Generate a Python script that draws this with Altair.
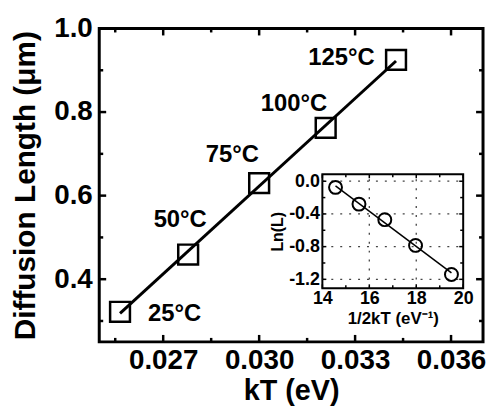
import altair as alt
import pandas as pd

# ---- data ----
temps = ["25°C", "50°C", "75°C", "100°C", "125°C"]
kT = [0.02565, 0.02778, 0.0300, 0.03208, 0.03428]          # eV
L = [0.322, 0.459, 0.630, 0.762, 0.925]                    # µm
inv2kT = [19.50, 17.97, 16.66, 15.56, 14.56]               # 1/eV
lnL = [-1.14, -0.785, -0.47, -0.28, -0.075]

x_major = [0.027, 0.030, 0.033, 0.036]
x_minor = [0.0255, 0.0285, 0.0315, 0.0345]
y_major = [0.4, 0.6, 0.8, 1.0]
y_minor = [0.3, 0.5, 0.7, 0.9]

ix_major = [14, 16, 18, 20]
ix_minor = [15, 17, 19]
iy_major = [0.0, -0.4, -0.8, -1.2]
iy_minor = [-0.2, -0.6, -1.0]

# ---- layout ----
W, H = 387, 316
XD = [0.025, 0.037]
YD = [0.25, 1.0]
IXD = [14, 20]
IYD = [-1.31, 0.085]
IN_L, IN_R, IN_T, IN_B = 225, 367, 147, 262   # inset frame in plot pixels

FONT = "Liberation Sans"

df = pd.DataFrame({"t": temps, "kT": kT, "L": L})
dfi = pd.DataFrame({"ix": inv2kT, "iy": lnL})

xs = alt.Scale(domain=XD, nice=False, zero=False)
ys = alt.Scale(domain=YD, nice=False, zero=False)
ixs = alt.Scale(domain=IXD, range=[IN_L, IN_R], nice=False, zero=False)
iys = alt.Scale(domain=IYD, range=[IN_B, IN_T], nice=False, zero=False)

xaxis = alt.Axis(values=x_major, format=".3f", labelFontSize=28, labelFontWeight="bold",
                 labelColor="black", ticks=False, domain=False, grid=False,
                 title="kT (eV)", titleFontSize=29, titleFontWeight="bold",
                 titleColor="black", labelPadding=5, titlePadding=2,
                 labelOverlap=False, labelFlush=False)
yaxis = alt.Axis(values=y_major, format=".1f", labelFontSize=28, labelFontWeight="bold",
                 labelColor="black", ticks=False, domain=False, grid=False,
                 title="Diffusion Length (μm)", titleFontSize=30, titleFontWeight="bold",
                 titleColor="black", labelPadding=7, titlePadding=13,
                 labelOverlap=False, labelFlush=False)

neg_fmt = "datum.value < 0 ? '-' + format(-datum.value, '.1f') : format(datum.value, '.1f')"
ixaxis = alt.Axis(orient="bottom", offset=-(H - IN_B), values=ix_major, format="d",
                  labelFontSize=18, labelFontWeight="bold", labelColor="black",
                  ticks=False, domain=False, grid=False, zindex=3,
                  title="1/2kT (eV⁻¹)", titleFontSize=17, titleFontWeight="bold",
                  titleColor="black", labelPadding=1, titlePadding=3,
                  labelOverlap=False, labelFlush=False)
iyaxis = alt.Axis(orient="left", offset=-IN_L, values=iy_major, labelExpr=neg_fmt,
                  labelFontSize=18, labelFontWeight="bold", labelColor="black",
                  ticks=False, domain=False, grid=False, zindex=3,
                  title="Ln(L)", titleFontSize=16, titleFontWeight="bold",
                  titleColor="black", labelPadding=3, titlePadding=3,
                  labelOverlap=False, labelFlush=False)

X = alt.X("kT:Q", scale=xs, axis=xaxis)
Y = alt.Y("L:Q", scale=ys, axis=yaxis)
IX = alt.X("ix:Q", scale=ixs, axis=ixaxis)
IY = alt.Y("iy:Q", scale=iys, axis=iyaxis)

def px(dom, length_px, span):
    return (dom[1] - dom[0]) * length_px / span

# ---- main panel ----
mframe = alt.Chart(pd.DataFrame({"a": [0]})).mark_rect(
    fill="transparent", stroke="black", strokeWidth=3).encode(
    x=alt.XDatum(XD[0], scale=xs, axis=xaxis), x2=alt.datum(XD[1]),
    y=alt.YDatum(YD[0], scale=ys, axis=yaxis), y2=alt.datum(YD[1]))
fit = alt.Chart(df).transform_regression("kT", "L").mark_line(
    color="black", strokeWidth=3).encode(x=X, y=Y)
squares = alt.Chart(df).mark_point(shape="square", size=400, filled=False,
                                   color="black", strokeWidth=2.5, opacity=1).encode(x=X, y=Y)

offsets = {"25°C": (55, 2), "50°C": (-8, -35), "75°C": (-27, -28),
           "100°C": (-32, -24), "125°C": (-55, -2)}
labels = []
for t in temps:
    dx, dy = offsets[t]
    labels.append(
        alt.Chart(df).transform_filter(alt.datum.t == t).mark_text(
            font=FONT, fontSize=24, fontWeight="bold", color="black",
            dx=dx, dy=dy, align="center", baseline="middle"
        ).encode(x=X, y=Y, text="t:N")
    )

def xticks(vals, length):
    d = pd.DataFrame({"kT": vals})
    bot = alt.Chart(d).mark_rule(color="black", strokeWidth=2.5).encode(
        x=X, y=alt.YDatum(YD[0], scale=ys, axis=yaxis),
        y2=alt.datum(YD[0] + px(YD, length, H)))
    top = alt.Chart(d).mark_rule(color="black", strokeWidth=2.5).encode(
        x=X, y=alt.YDatum(YD[1], scale=ys, axis=yaxis),
        y2=alt.datum(YD[1] - px(YD, length, H)))
    return [bot, top]

def yticks(vals, length):
    d = pd.DataFrame({"L": vals})
    lft = alt.Chart(d).mark_rule(color="black", strokeWidth=2.5).encode(
        y=Y, x=alt.XDatum(XD[0], scale=xs, axis=xaxis),
        x2=alt.datum(XD[0] + px(XD, length, W)))
    rgt = alt.Chart(d).mark_rule(color="black", strokeWidth=2.5).encode(
        y=Y, x=alt.XDatum(XD[1], scale=xs, axis=xaxis),
        x2=alt.datum(XD[1] - px(XD, length, W)))
    return [lft, rgt]

main = alt.layer(mframe, fit, *xticks(x_major, 7), *xticks(x_minor, 4),
                 *yticks(y_major, 7), *yticks(y_minor, 4), squares, *labels)

# ---- inset ----
IWp, IHp = IN_R - IN_L, IN_B - IN_T
grid_v = alt.Chart(pd.DataFrame({"ix": ix_major[1:-1]})).mark_rule(
    color="#444", strokeWidth=1.3, strokeDash=[2, 7]).encode(
    x=IX, y=alt.YDatum(IYD[0], scale=iys, axis=iyaxis), y2=alt.datum(IYD[1]))
grid_h = alt.Chart(pd.DataFrame({"iy": iy_major})).mark_rule(
    color="#444", strokeWidth=1.3, strokeDash=[2, 7]).encode(
    y=IY, x=alt.XDatum(IXD[0], scale=ixs, axis=ixaxis), x2=alt.datum(IXD[1]))

def ixticks(vals, length):
    d = pd.DataFrame({"ix": vals})
    out = []
    for base, sgn in ((IYD[0], 1), (IYD[1], -1)):
        out.append(alt.Chart(d).mark_rule(color="black", strokeWidth=1.5).encode(
            x=IX, y=alt.YDatum(base, scale=iys, axis=iyaxis),
            y2=alt.datum(base + sgn * px(IYD, length, IHp))))
    return out

def iyticks(vals, length):
    d = pd.DataFrame({"iy": vals})
    out = []
    for base, sgn in ((IXD[0], 1), (IXD[1], -1)):
        out.append(alt.Chart(d).mark_rule(color="black", strokeWidth=1.5).encode(
            y=IY, x=alt.XDatum(base, scale=ixs, axis=ixaxis),
            x2=alt.datum(base + sgn * px(IXD, length, IWp))))
    return out

frame = alt.Chart(pd.DataFrame({"a": [0]})).mark_rect(
    fill="white", stroke="black", strokeWidth=2).encode(
    x=alt.XDatum(IXD[0], scale=ixs, axis=ixaxis), x2=alt.datum(IXD[1]),
    y=alt.YDatum(IYD[0], scale=iys, axis=iyaxis), y2=alt.datum(IYD[1]))

ifit = alt.Chart(dfi).transform_regression("ix", "iy").mark_line(
    color="black", strokeWidth=1.5).encode(x=IX, y=IY)
icirc = alt.Chart(dfi).mark_point(shape="circle", size=170, filled=False,
                                  color="black", strokeWidth=2, opacity=1).encode(x=IX, y=IY)

inset = alt.layer(frame, grid_v, grid_h, *ixticks(ix_major, 4), *ixticks(ix_minor, 3),
                  *iyticks(iy_major, 4), *iyticks(iy_minor, 3), ifit, icirc)

chart = alt.layer(main, inset).resolve_scale(x="independent", y="independent").properties(
    width=W, height=H,
    padding={"left": 3, "top": 5, "right": 0, "bottom": 0},
).configure_view(stroke=None).configure(font=FONT, background="white")

chart.save("out.html", embed_options={"renderer": "svg", "actions": False})
